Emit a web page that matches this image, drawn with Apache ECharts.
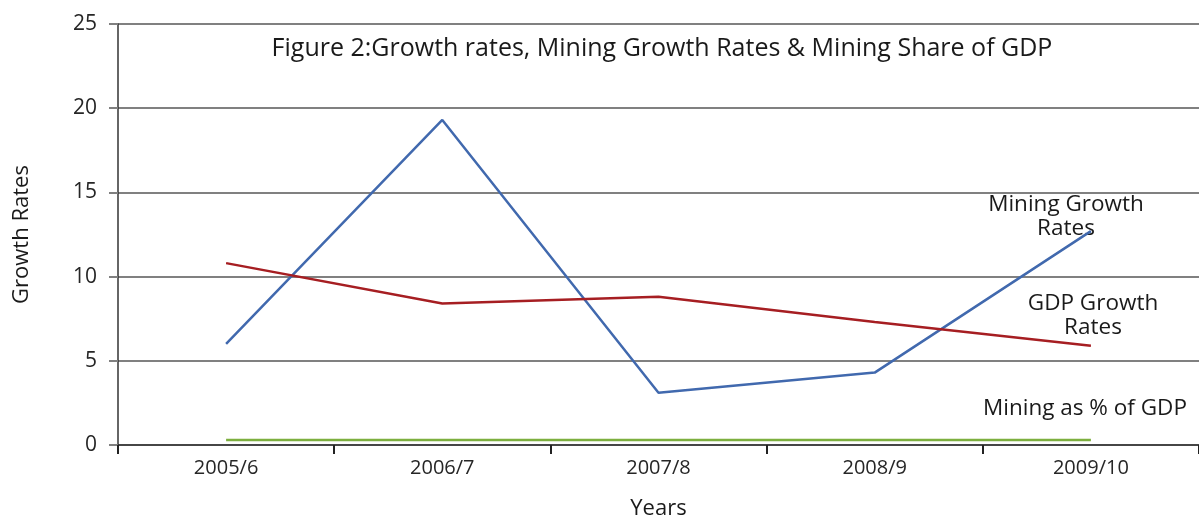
<!DOCTYPE html>
<html>
<head>
<meta charset="utf-8">
<script src="https://cdn.jsdelivr.net/npm/echarts@6/dist/echarts.min.js"></script>
<style>html,body{margin:0;padding:0;background:#fff}#c{width:1199px;height:522px}</style>
</head>
<body>
<div id="c"></div>
<script>
const categories = ['2005/6', '2006/7', '2007/8', '2008/9', '2009/10'];
const miningGrowth = [6.0, 19.3, 3.1, 4.3, 12.7];
const gdpGrowth = [10.8, 8.4, 8.8, 7.3, 5.9];
const miningShare = [0.3, 0.3, 0.3, 0.3, 0.3];
const yTicks = [0, 5, 10, 15, 20, 25];

const FONT = '"Open Sans", "Noto Sans", sans-serif';
const INK = '#1a1a1a';
const chart = echarts.init(document.getElementById('c'));
chart.setOption({
  animation: false,
  backgroundColor: '#fff',
  textStyle: { fontFamily: FONT },
  title: {
    text: 'Figure 2:Growth rates, Mining Growth Rates & Mining Share of GDP',
    left: 657, top: 31, textAlign: 'center',
    textStyle: { fontFamily: FONT, fontSize: 25, fontWeight: 500, color: INK }
  },
  grid: { left: 118, right: 0, top: 24, bottom: 77, outerBoundsMode: 'none', containLabel: false },
  xAxis: {
    type: 'category', data: categories, boundaryGap: true,
    name: 'Years', nameLocation: 'middle', nameGap: 53,
    nameTextStyle: { fontFamily: FONT, fontSize: 22, fontWeight: 500, color: INK },
    axisLine: { lineStyle: { color: '#333', width: 1.5 } },
    axisTick: { show: true, length: 9, lineStyle: { color: '#222', width: 2 } },
    axisLabel: { fontFamily: FONT, fontSize: 20, color: '#262626', margin: 13 },
    splitLine: { show: false }
  },
  yAxis: {
    type: 'value', min: yTicks[0], max: yTicks[yTicks.length - 1], interval: 5,
    name: 'Growth Rates', nameLocation: 'middle', nameGap: 85, nameRotate: 90,
    nameTextStyle: { fontFamily: FONT, fontSize: 22, fontWeight: 500, color: INK },
    axisLine: { show: true, lineStyle: { color: '#333', width: 1.5 } },
    axisTick: { show: true, length: 9, lineStyle: { color: '#808080', width: 2 } },
    axisLabel: { fontFamily: FONT, fontSize: 21, color: '#262626', margin: 21 },
    splitLine: { show: true, lineStyle: { color: '#808080', width: 2 } }
  },
  series: [
    { name: 'Mining Growth Rates', type: 'line', data: miningGrowth, symbol: 'none',
      lineStyle: { color: '#4169AE', width: 2.5 }, itemStyle: { color: '#4169AE' } },
    { name: 'GDP Growth Rates', type: 'line', data: gdpGrowth, symbol: 'none',
      lineStyle: { color: '#A61E22', width: 2.5 }, itemStyle: { color: '#A61E22' } },
    { name: 'Mining as % of GDP', type: 'line', data: miningShare, symbol: 'none',
      lineStyle: { color: '#7DAF3F', width: 2.5 }, itemStyle: { color: '#7DAF3F' } }
  ],
  graphic: [
    { type: 'text', x: 1066, y: 217, style: { text: 'Mining Growth\nRates', font: '500 22.5px ' + FONT, fill: INK, lineHeight: 24, align: 'center', verticalAlign: 'middle' } },
    { type: 'text', x: 1093, y: 316, style: { text: 'GDP Growth\nRates', font: '500 22.5px ' + FONT, fill: INK, lineHeight: 24, align: 'center', verticalAlign: 'middle' } },
    { type: 'text', x: 1085, y: 409, style: { text: 'Mining as % of GDP', font: '500 22.5px ' + FONT, fill: INK, align: 'center', verticalAlign: 'middle' } }
  ]
});
</script>
</body>
</html>
